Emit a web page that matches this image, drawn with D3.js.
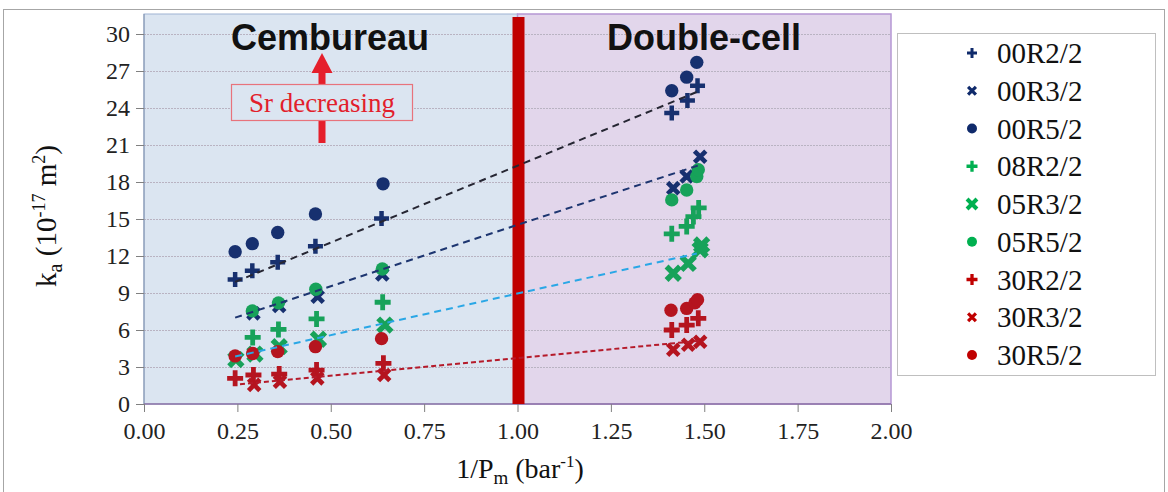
<!DOCTYPE html>
<html>
<head>
<meta charset="utf-8">
<script src="https://cdn.jsdelivr.net/npm/d3@7"></script>
<style>
  html, body { margin: 0; padding: 0; background: #fff; }
  svg { display: block; }
</style>
</head>
<body>
<svg id="chart" width="1168" height="492"></svg>
<script>
// Axis ticks
const xTicks = [0, 0.25, 0.5, 0.75, 1.0, 1.25, 1.5, 1.75, 2.0];
const yTicks = [0, 3, 6, 9, 12, 15, 18, 21, 24, 27, 30];

// Measured apparent permeability k_a (1e-17 m2) against 1/Pm (bar^-1)
const s00R2 = [[0.244,10.1],[0.290,10.8],[0.358,11.5],[0.459,12.8],[0.636,15.05],[1.413,23.6],[1.455,24.6],[1.482,25.8]];
const s00R3 = [[0.293,7.35],[0.362,7.95],[0.465,8.7],[0.638,10.5],[1.417,17.5],[1.453,18.45],[1.489,20.05]];
const s00R5 = [[0.244,12.35],[0.290,13.0],[0.358,13.9],[0.459,15.4],[0.640,17.85],[1.413,25.4],[1.453,26.5],[1.480,27.7]];
const s08R2 = [[0.291,5.4],[0.360,6.05],[0.462,6.9],[0.639,8.25],[1.413,13.8],[1.453,14.4],[1.471,15.2],[1.485,15.9]];
const s05R3 = [[0.246,3.6],[0.297,4.05],[0.362,4.65],[0.467,5.25],[0.645,6.4],[1.417,10.6],[1.457,11.4],[1.489,12.5],[1.493,12.9]];
const s05R5 = [[0.290,7.55],[0.360,8.2],[0.460,9.3],[0.638,10.95],[1.413,16.55],[1.453,17.35],[1.480,18.45],[1.484,19.0]];
const s30R2 = [[0.244,2.08],[0.293,2.35],[0.362,2.43],[0.462,2.75],[0.641,3.3],[1.413,6.0],[1.453,6.4],[1.484,6.95]];
const s30R3 = [[0.295,1.55],[0.364,1.8],[0.464,2.08],[0.643,2.35],[1.417,4.4],[1.457,4.8],[1.489,5.05]];
const s30R5 = [[0.244,3.9],[0.291,4.1],[0.358,4.25],[0.459,4.65],[0.636,5.3],[1.411,7.6],[1.453,7.75],[1.475,8.2],[1.482,8.45]];

// Linear trend lines (start and end points)
const trendBlack = [[0.244, 9.9], [1.48, 25.3]];
const trendNavy  = [[0.244, 7.0], [1.49, 19.4]];
const trendSky   = [[0.244, 3.85], [1.48, 12.2]];
const trendRed   = [[0.257, 1.6], [1.49, 5.13]];

const seriesNames = ["00R2/2","00R3/2","00R5/2","08R2/2","05R3/2","05R5/2","30R2/2","30R3/2","30R5/2"];

// ---- styling ----
const SERIF = '"Liberation Serif", "Times New Roman", serif';
const SANS = '"Liberation Sans", Arial, sans-serif';
const NAVY = "#17306f", GREEN = "#17a25a", RED = "#b5141f";
const LNAVY = "#0f2a6b", LGREEN = "#00b050", LRED = "#c00000";
const series = [
  { name: seriesNames[0], data: s00R2, shape: "plus",   color: NAVY,  legendColor: LNAVY,  size: 7.5, lsize: 5 },
  { name: seriesNames[1], data: s00R3, shape: "cross",  color: NAVY,  legendColor: LNAVY,  size: 8,   lsize: 5.5 },
  { name: seriesNames[2], data: s00R5, shape: "circle", color: NAVY,  legendColor: LNAVY,  size: 6.7, lsize: 5 },
  { name: seriesNames[3], data: s08R2, shape: "plus",   color: GREEN, legendColor: LGREEN, size: 8,   lsize: 5.5 },
  { name: seriesNames[4], data: s05R3, shape: "cross",  color: GREEN, legendColor: LGREEN, size: 9.5, lsize: 7 },
  { name: seriesNames[5], data: s05R5, shape: "circle", color: GREEN, legendColor: LGREEN, size: 6.7, lsize: 5 },
  { name: seriesNames[6], data: s30R2, shape: "plus",   color: RED,   legendColor: LRED,   size: 8,   lsize: 5.5 },
  { name: seriesNames[7], data: s30R3, shape: "cross",  color: RED,   legendColor: LRED,   size: 8,   lsize: 5.5 },
  { name: seriesNames[8], data: s30R5, shape: "circle", color: RED,   legendColor: LRED,   size: 6.7, lsize: 5 }
];
const trends = [
  { pts: trendBlack, color: "#262633", dash: "7,5", w: 2 },
  { pts: trendNavy,  color: "#1d3570", dash: "7,5", w: 2 },
  { pts: trendSky,   color: "#2aa7e6", dash: "7,5", w: 2 },
  { pts: trendRed,   color: "#b51a2a", dash: "5,3", w: 2 }
];

const svg = d3.select("#chart");
const L = 144, R = 891, T = 14, B = 404;

const x = d3.scaleLinear().domain([0, 2]).range([L, R]);
const y = d3.scaleLinear().domain([0, 30]).range([B, 34]);

// outer frame
svg.append("rect").attr("x", 3.5).attr("y", 9.5).attr("width", 1161).attr("height", 500)
  .attr("fill", "none").attr("stroke", "#a6a6a6").attr("stroke-width", 1);

// region backgrounds
svg.append("rect").attr("x", x(0)).attr("y", T).attr("width", x(1) - x(0)).attr("height", B - T)
  .attr("fill", "#dbe5f1").attr("stroke", "#9fb3d3").attr("stroke-width", 1);
svg.append("rect").attr("x", x(1)).attr("y", T).attr("width", x(2) - x(1)).attr("height", B - T)
  .attr("fill", "#e2d6eb").attr("stroke", "#b597d4").attr("stroke-width", 1.5);

// horizontal gridlines
svg.append("g").selectAll("line").data(yTicks.filter(d => d > 0)).join("line")
  .attr("x1", L).attr("x2", R).attr("y1", d => Math.round(y(d)) + 0.5).attr("y2", d => Math.round(y(d)) + 0.5)
  .attr("stroke", "#b9b3c2").attr("stroke-width", 1).attr("stroke-dasharray", "2,1");

// y axis
const yAxis = svg.append("g").attr("transform", `translate(${L},0)`)
  .call(d3.axisLeft(y).tickValues(yTicks).tickFormat(d3.format("d")).tickSize(8).tickPadding(6));
yAxis.attr("font-family", null).attr("font-size", null);
yAxis.select(".domain").attr("stroke", "#7f8fab").attr("d", `M0,${B}V${T}`);
yAxis.selectAll(".tick line").attr("stroke", "#808080");
yAxis.selectAll("text").style("font-family", SERIF).style("font-size", "24px").attr("fill", "#222");

// x axis
const xAxis = svg.append("g").attr("transform", `translate(0,${B})`)
  .call(d3.axisBottom(x).tickValues(xTicks).tickFormat(d3.format(".2f")).tickSize(8).tickPadding(10));
xAxis.attr("font-family", null).attr("font-size", null);
xAxis.select(".domain").attr("stroke", "#8c72a6").attr("stroke-width", 1.5).attr("d", `M${L},0H${R}`);
xAxis.selectAll(".tick line").attr("stroke", "#808080");
xAxis.selectAll("text").style("font-family", SERIF).style("font-size", "24px").attr("fill", "#222");

// divider between the two test methods
svg.append("rect").attr("x", x(1) - 5).attr("y", 17).attr("width", 12).attr("height", B - 17)
  .attr("fill", "#c00000");

// region titles
svg.append("text").attr("x", 330).attr("y", 50).attr("text-anchor", "middle")
  .style("font-family", SANS).style("font-weight", "bold").style("font-size", "36px")
  .attr("fill", "#111").text("Cembureau");
svg.append("text").attr("x", 704).attr("y", 50).attr("text-anchor", "middle")
  .style("font-family", SANS).style("font-weight", "bold").style("font-size", "36px")
  .attr("fill", "#111").text("Double-cell");

// "Sr decreasing" arrow annotation
const ax = 322;
svg.append("rect").attr("x", ax - 3.5).attr("y", 70).attr("width", 7).attr("height", 73).attr("fill", "#e51f2b");
svg.append("path").attr("d", `M${ax},53L${ax + 10.5},73L${ax - 10.5},73Z`).attr("fill", "#e51f2b");
svg.append("rect").attr("x", 231.5).attr("y", 84.5).attr("width", 181).attr("height", 36)
  .attr("fill", "#dbe5f1").attr("stroke", "#e8737c").attr("stroke-width", 1.2);
svg.append("text").attr("x", ax).attr("y", 112).attr("text-anchor", "middle")
  .style("font-family", SERIF).style("font-size", "27px")
  .attr("fill", "#e21e2c").text("Sr decreasing");

// marker drawing
function drawMarker(g, shape, s, color) {
  if (shape === "circle") {
    g.append("circle").attr("r", s).attr("fill", color);
  } else {
    const sw = shape === "plus" ? s * 0.6 : s * 0.58;
    const p = g.append("path").attr("d", `M${-s},0H${s}M0,${-s}V${s}`)
      .attr("stroke", color).attr("stroke-width", sw).attr("fill", "none");
    if (shape === "cross") p.attr("transform", "rotate(45)");
  }
}

const marks = svg.append("g");
series.forEach(sr => {
  sr.data.forEach(d => {
    const g = marks.append("g").attr("transform", `translate(${x(d[0])},${y(d[1])})`);
    drawMarker(g, sr.shape, sr.size, sr.color);
  });
});

// trend lines
const line = d3.line().x(d => x(d[0])).y(d => y(d[1]));
svg.append("g").selectAll("path").data(trends).join("path")
  .attr("d", d => line(d.pts)).attr("fill", "none")
  .attr("stroke", d => d.color).attr("stroke-width", d => d.w).attr("stroke-dasharray", d => d.dash);

// axis titles
const xt = svg.append("text").attr("x", 520).attr("y", 478).attr("text-anchor", "middle")
  .style("font-family", SERIF).style("font-size", "28px").attr("fill", "#111");
xt.append("tspan").text("1/P");
xt.append("tspan").style("font-size", "19px").attr("dy", 6).text("m");
xt.append("tspan").attr("dy", -6).text(" (bar");
xt.append("tspan").style("font-size", "17px").attr("dy", -11).text("-1");
xt.append("tspan").attr("dy", 11).text(")");

const yt = svg.append("text").attr("transform", "translate(56,216) rotate(-90)").attr("text-anchor", "middle")
  .style("font-family", SERIF).style("font-size", "29px").attr("fill", "#111");
yt.append("tspan").text("k");
yt.append("tspan").style("font-size", "20px").attr("dy", 6).text("a");
yt.append("tspan").attr("dy", -6).text(" (10");
yt.append("tspan").style("font-size", "18px").attr("dy", -11).text("-17");
yt.append("tspan").attr("dy", 11).text(" m");
yt.append("tspan").style("font-size", "18px").attr("dy", -11).text("2");
yt.append("tspan").attr("dy", 11).text(")");

// legend
const lg = svg.append("g");
lg.append("rect").attr("x", 897.5).attr("y", 33.5).attr("width", 258).attr("height", 342)
  .attr("fill", "#fff").attr("stroke", "#bfbfbf").attr("stroke-width", 1);
const ly = d3.scalePoint().domain(seriesNames).range([53, 355]);
series.forEach(sr => {
  const g = lg.append("g").attr("transform", `translate(972,${ly(sr.name)})`);
  drawMarker(g, sr.shape, sr.lsize, sr.legendColor);
  lg.append("text").attr("x", 997).attr("y", ly(sr.name) + 10)
    .style("font-family", SERIF).style("font-size", "29px")
    .attr("fill", "#111").text(sr.name);
});
</script>
</body>
</html>
